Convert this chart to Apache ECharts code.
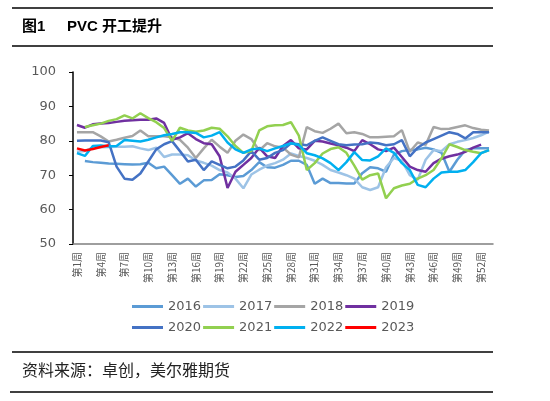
<!DOCTYPE html>
<html><head><meta charset="utf-8">
<script src="https://cdn.jsdelivr.net/npm/echarts@6/dist/echarts.min.js"></script>
<style>html,body{margin:0;padding:0;background:#fff}#c{width:550px;height:401px}</style>
</head><body><div id="c"></div>
<script>
var weeks = ['第1周','第2周','第3周','第4周','第5周','第6周','第7周','第8周','第9周','第10周','第11周','第12周','第13周','第14周','第15周','第16周','第17周','第18周','第19周','第20周','第21周','第22周','第23周','第24周','第25周','第26周','第27周','第28周','第29周','第30周','第31周','第32周','第33周','第34周','第35周','第36周','第37周','第38周','第39周','第40周','第41周','第42周','第43周','第44周','第45周','第46周','第47周','第48周','第49周','第50周','第51周','第52周','第53周'];
var years = ['2016','2017','2018','2019','2020','2021','2022','2023'];
var colors = ['#5B9BD5','#9DC3E6','#A5A5A5','#7030A0','#4472C4','#92D050','#00B0F0','#FF0000'];
var yTicks = [50,60,70,80,90,100];
var s2016 = [null,74.1,73.8,73.6,73.4,73.3,73.2,73.1,73.2,73.6,72.0,72.5,70.0,67.5,69.0,66.7,68.5,68.6,70.3,70.0,69.5,69.8,71.5,73.8,72.3,72.2,73.0,74.2,74.2,73.0,67.5,69.0,67.7,67.7,67.6,67.6,70.6,72.3,72.0,71.0,76.0,77.0,77.3,77.5,78.0,77.5,76.5,71.0,74.5,77.3,77.8,77.8,77.8];
var s2017 = [76.8,77.0,78.0,78.1,78.2,78.3,78.3,78.4,77.8,77.3,78.0,75.3,76.0,76.0,75.8,74.3,73.6,72.8,71.5,70.8,69.0,66.2,70.2,71.6,72.8,73.5,74.5,76.3,75.6,75.0,74.2,73.0,71.5,70.8,70.0,69.0,66.5,65.7,66.5,72.3,75.0,74.2,70.0,68.7,74.5,77.3,77.0,79.0,79.7,80.2,80.8,81.6,82.7];
var s2018 = [82.5,82.5,82.5,81.3,79.8,80.3,80.9,81.4,83.0,81.3,81.3,81.3,81.0,80.3,78.0,75.0,77.8,80.3,78.3,76.5,80.0,81.8,80.5,77.2,79.3,78.4,78.0,76.0,75.2,84.0,82.8,82.3,83.5,85.0,82.2,82.5,82.0,81.0,81.0,81.2,81.3,83.1,76.8,79.5,78.8,84.0,83.4,83.5,84.0,84.5,83.7,83.2,83.0];
var s2019 = [84.6,83.8,84.8,85.0,85.2,85.5,85.8,86.0,86.1,86.1,86.5,85.2,80.3,81.0,82.2,80.5,79.3,79.0,75.5,66.3,71.0,73.0,75.0,78.0,75.5,75.0,78.5,80.2,77.8,77.5,80.0,79.8,79.2,78.7,78.0,77.0,80.2,79.0,77.5,77.0,78.0,75.3,72.5,71.5,71.0,73.5,74.8,75.5,76.0,76.8,78.0,78.9,null];
var s2020 = [80.0,80.1,80.1,80.1,79.6,72.5,69.0,68.7,70.5,74.0,77.5,79.0,79.9,77.0,74.0,74.5,71.5,74.0,73.0,72.0,72.5,74.3,77.0,74.5,75.0,76.5,77.3,79.3,79.0,78.7,80.0,81.0,80.0,79.0,78.7,78.9,79.0,79.5,79.3,78.7,79.0,80.2,75.5,78.0,79.5,80.5,81.5,82.5,82.0,80.7,82.5,82.5,82.5];
var s2021 = [null,84.0,84.5,85.0,85.8,86.3,87.4,86.5,88.0,86.6,85.4,83.7,80.0,83.8,83.0,82.6,83.0,83.8,83.5,81.3,78.5,76.5,77.0,83.0,84.2,84.5,84.6,85.4,81.5,71.5,73.5,76.3,77.6,78.1,76.5,72.8,68.7,70.0,70.5,63.3,66.2,67.0,67.5,69.0,70.0,71.5,74.9,79.0,78.2,77.3,76.8,76.4,77.3];
var s2022 = [76.4,75.6,78.5,78.6,78.4,78.5,80.2,80.0,79.8,80.3,81.0,81.6,82.0,82.5,82.5,82.3,81.0,81.5,82.5,79.5,77.5,76.5,77.5,77.8,77.0,77.8,78.5,79.3,78.8,76.4,75.8,74.9,73.5,71.5,73.8,76.7,74.4,74.3,75.5,77.8,76.5,73.5,71.5,67.2,66.5,69.0,70.8,71.0,71.0,71.5,73.8,76.4,77.3];
var s2023 = [77.8,77.2,77.6,78.2,78.7];
var seriesData = [s2016,s2017,s2018,s2019,s2020,s2021,s2022,s2023];

var chart = echarts.init(document.getElementById('c'), null, {renderer:'canvas'});
var numFont = 'DejaVu Sans';
var cjk = '"Liberation Sans","Noto Sans CJK SC",sans-serif';
var series = years.map(function(y,i){
  return {name:y, type:'line', data:seriesData[i], symbol:'none', connectNulls:false,
    lineStyle:{color:colors[i], width:2.5}, itemStyle:{color:colors[i]}, z:2+i};
});
var legendBase = {left:127, itemWidth:31, itemHeight:3, itemGap:2, icon:'rect',
  textStyle:{fontFamily:numFont, fontSize:13, color:'#595959'}};
chart.setOption({
  animation:false,
  backgroundColor:'#fff',
  color:colors,
  grid:{left:73, right:57, top:72, bottom:157},
  legend:[
    Object.assign({top:295, data:years.slice(0,4)}, legendBase),
    Object.assign({top:316, data:years.slice(4)}, legendBase)
  ],
  xAxis:{type:'category', data:weeks, boundaryGap:true,
    axisLine:{lineStyle:{color:'#7f7f7f', width:1.5}}, axisTick:{show:false},
    axisLabel:{interval:2, rotate:90, fontSize:10, color:'#595959', margin:8, fontFamily:'"Noto Sans CJK SC",sans-serif'}},
  yAxis:{type:'value', min:yTicks[0], max:yTicks[yTicks.length-1], interval:10,
    axisLine:{show:true, lineStyle:{color:'#000', width:1.5}},
    axisTick:{show:true, inside:false, length:4, lineStyle:{color:'#000'}},
    splitLine:{show:false},
    axisLabel:{fontFamily:numFont, fontSize:13, color:'#595959', margin:17}},
  series:series,
  graphic:[
    {type:'line', shape:{x1:12,y1:8,x2:493,y2:8}, style:{stroke:'#000', lineWidth:1.5}},
    {type:'text', left:22, top:19, style:{text:'图1', font:'bold 15px '+cjk, fill:'#000'}},
    {type:'text', left:67, top:19, style:{text:'PVC 开工提升', font:'bold 15px '+cjk, fill:'#000'}},
    {type:'line', shape:{x1:12,y1:46,x2:493,y2:46}, style:{stroke:'#000', lineWidth:1.5}},
    {type:'line', shape:{x1:12,y1:352,x2:493,y2:352}, style:{stroke:'#000', lineWidth:1.5}},
    {type:'text', left:22, top:362, style:{text:'资料来源：卓创，美尔雅期货', font:'16px "Noto Sans CJK SC",sans-serif', fill:'#222'}},
    {type:'line', shape:{x1:10,y1:392,x2:493,y2:392}, style:{stroke:'#000', lineWidth:1.5}}
  ]
});
</script></body></html>
